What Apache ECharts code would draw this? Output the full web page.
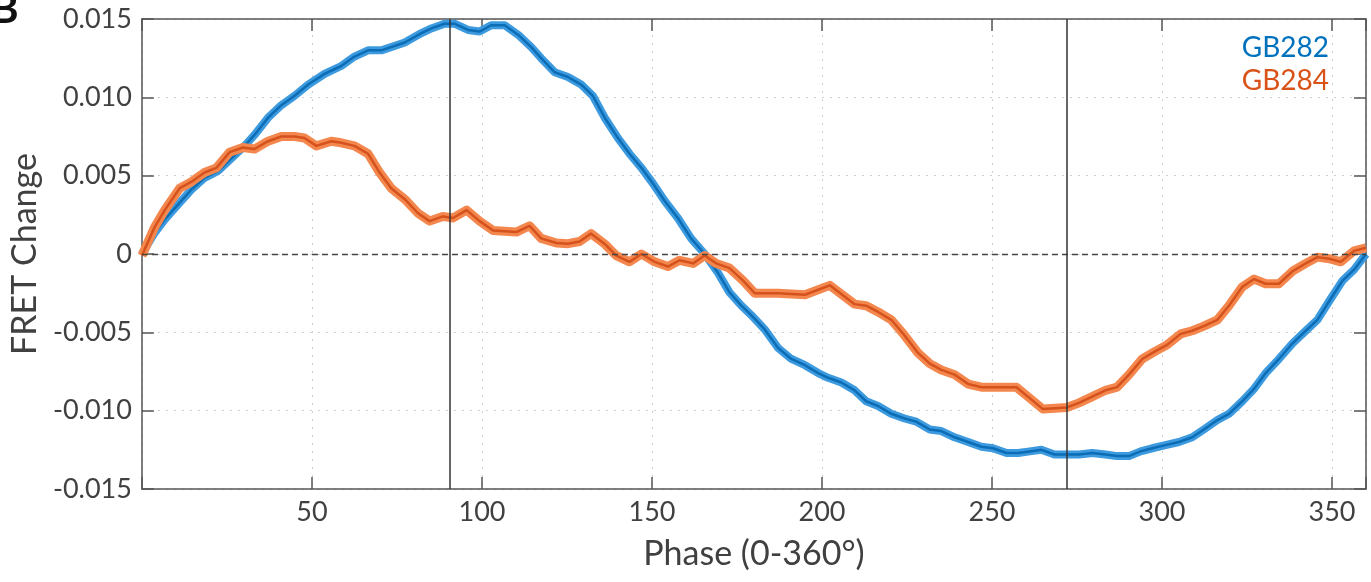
<!DOCTYPE html>
<html>
<head>
<meta charset="utf-8">
<title>FRET Change vs Phase</title>
<script src="https://cdn.jsdelivr.net/npm/echarts@6/dist/echarts.min.js"></script>
<style>
  html, body { margin: 0; padding: 0; background: #fff; }
  #chart { width: 1371px; height: 582px; }
</style>
</head>
<body>
<div id="chart"></div>
<script>
// GB282
const phase282 = [0, 3.7, 6.7, 10.6, 14.5, 18.4, 22.4, 26.3, 30.2, 33.1, 37.1, 41, 44.9, 48.8, 53.7, 58.6, 62.5, 66.5, 70.4, 77.3,
  82.2, 85.1, 89, 91.9, 95.9, 99.3, 102.7, 106.7, 110.6, 114.5, 117.4, 121.4, 125.3, 129.3, 132.6, 136.1, 140, 143.4, 146.9, 150.3,
  153.7, 157.6, 161.5, 165.5, 169.4, 172.8, 176.3, 179.2, 183.1, 187.1, 191, 195, 198.9, 201.8, 205.7, 209.6, 213, 216.5, 220.4, 224.3,
  227.7, 231.7, 235.1, 239, 243, 246.9, 250.3, 254.3, 257.7, 261.1, 264.5, 268.4, 272.8, 275.6, 279.5, 283.4, 286.8, 290.3, 293.7, 297.1,
  301, 305, 308.9, 312.3, 316.3, 319.7, 323.6, 327.1, 330.5, 334.4, 338.4, 342.3, 345.7, 349.2, 353.1, 356.5, 360];
const fret282 = [0, 0.00134, 0.0022, 0.00315, 0.0041, 0.00486, 0.0053, 0.0061, 0.0069, 0.0076, 0.0087, 0.0095, 0.0101, 0.0108, 0.0115, 0.012, 0.0126, 0.013, 0.013, 0.0135,
  0.0141, 0.0144, 0.0147, 0.0147, 0.0143, 0.0142, 0.0146, 0.0146, 0.014, 0.0132, 0.0125, 0.0116, 0.0113, 0.0108, 0.0101, 0.0087, 0.0074, 0.0064, 0.0055, 0.0045,
  0.0034, 0.0023, 0.001, 0, -0.0012, -0.00245, -0.0033, -0.0039, -0.0048, -0.006, -0.0067, -0.0071, -0.0076, -0.0079, -0.0082, -0.0087, -0.0094, -0.0097, -0.0102, -0.0105,
  -0.0107, -0.0112, -0.0113, -0.0117, -0.012, -0.0123, -0.0124, -0.0127, -0.0127, -0.0126, -0.0125, -0.0128, -0.0128, -0.0128, -0.0127, -0.0128, -0.0129, -0.0129, -0.0126, -0.0124,
  -0.0122, -0.012, -0.0117, -0.0112, -0.0106, -0.0102, -0.0094, -0.0086, -0.0076, -0.0067, -0.0057, -0.0049, -0.0042, -0.003, -0.0017, -0.001, 0];

// GB284
const phase284 = [0, 3.7, 6.7, 11.1, 14.5, 18.4, 21.9, 25.8, 29.7, 33.1, 37.1, 41, 44.9, 47.8, 51.3, 55.7, 58.6, 62.5, 66.5, 69.9,
  73.3, 77.3, 81.2, 84.6, 88.5, 91.5, 95.5, 99.3, 103.3, 110.1, 114, 117.4, 121.9, 125.3, 128.7, 132.1, 136.1, 139.5, 143.4, 146.9,
  150.8, 154.7, 158.1, 162.1, 165.5, 168.9, 172.8, 176.8, 180.2, 187.1, 195, 202.3, 209.6, 213, 216.5, 220.4, 224.3, 228.2, 231.7, 235.1,
  239, 243, 246.9, 252.7, 257.2, 261.1, 265, 272, 275.6, 279.5, 283.4, 286.8, 290.3, 294.2, 298.1, 301.5, 305.5, 308.9, 312.3, 316.3,
  319.7, 323.6, 327.1, 330.5, 334.4, 338.4, 342.3, 345.7, 349.2, 352.6, 356.5, 360];
const fret284 = [-0.0001, 0.0017, 0.0028, 0.0042, 0.0046, 0.0052, 0.0055, 0.0065, 0.0068, 0.0067, 0.0072, 0.0075, 0.0075, 0.0074, 0.0069, 0.0072, 0.0071, 0.0069, 0.0064, 0.0052,
  0.0042, 0.0035, 0.0026, 0.0021, 0.0024, 0.0023, 0.0028, 0.0021, 0.0015, 0.0014, 0.0018, 0.001, 0.0007, 0.00066, 0.0008, 0.0013, 0.00064, -0.0001, -0.0005, 0,
  -0.0005, -0.0008, -0.0004, -0.0006, -0.0001, -0.0006, -0.0009, -0.0017, -0.0025, -0.0025, -0.0026, -0.002, -0.0032, -0.0033, -0.0037, -0.0042, -0.0052, -0.0063, -0.007, -0.0074,
  -0.0077, -0.0083, -0.0085, -0.0085, -0.0085, -0.0092, -0.0099, -0.0098, -0.0095, -0.0091, -0.0087, -0.0085, -0.0077, -0.0067, -0.0062, -0.0058, -0.0051, -0.0049, -0.0046, -0.0042,
  -0.0033, -0.0021, -0.0016, -0.0019, -0.0019, -0.0011, -0.0006, -0.0002, -0.0003, -0.0005, 0.0002, 0.0004];

// reference lines
const refPhases = [90.4, 272];
const zeroLevel = 0;

const font = 'Lato, "Open Sans", sans-serif';
const textColor = '#404040';
const axisColor = '#555';

const pairs = (xs, ys) => xs.map((x, i) => [x, ys[i]]);

const chart = echarts.init(document.getElementById('chart'));

const baseAxisLine = { show: true, onZero: false, lineStyle: { color: axisColor, width: 1.5 } };
const tick = { show: true, inside: true, length: 12, lineStyle: { color: axisColor, width: 1.5 } };
const dotted = { show: true, lineStyle: { color: '#cfcfcf', type: [2, 6], width: 1 } };

chart.setOption({
  animation: false,
  grid: { left: 141, right: 5, top: 19, bottom: 93, containLabel: false },
  graphic: [
    { type: 'text', left: -9, top: -12, style: { text: 'B', font: 'bold 42px ' + font, fill: '#111' } },
    { type: 'text', right: 42, top: 34, style: { text: 'GB282', font: '28px ' + font, fill: '#0072BD', textAlign: 'right' } },
    { type: 'text', right: 42, top: 67, style: { text: 'GB284', font: '28px ' + font, fill: '#D95319', textAlign: 'right' } }
  ],
  xAxis: [{
    type: 'value', min: 0, max: 360, interval: 50,
    name: 'Phase (0-360°)', nameLocation: 'middle', nameGap: 48,
    nameTextStyle: { fontFamily: font, fontSize: 34, color: textColor },
    axisLine: baseAxisLine, axisTick: tick, splitLine: dotted,
    axisLabel: { fontFamily: font, fontSize: 27, color: textColor, margin: 10,
      formatter: v => (v === 0 || v === 360) ? '' : String(v) }
  }, {
    type: 'value', position: 'top', min: 0, max: 360, interval: 50,
    axisLine: baseAxisLine, axisTick: tick, axisLabel: { show: false }, splitLine: { show: false }
  }],
  yAxis: [{
    type: 'value', min: -0.015, max: 0.015, interval: 0.005,
    name: 'FRET Change', nameLocation: 'middle', nameGap: 94,
    nameTextStyle: { fontFamily: font, fontSize: 34, color: textColor },
    axisLine: baseAxisLine, axisTick: tick, splitLine: dotted,
    axisLabel: { fontFamily: font, fontSize: 27, color: textColor, margin: 10,
      formatter: v => Math.abs(v) < 1e-9 ? '0' : v.toFixed(3) }
  }, {
    type: 'value', position: 'right', min: -0.015, max: 0.015, interval: 0.005,
    axisLine: baseAxisLine, axisTick: tick, axisLabel: { show: false }, splitLine: { show: false }
  }],
  series: [
    {
      name: 'refs', type: 'line', data: [], silent: true,
      markLine: {
        symbol: 'none', silent: true, label: { show: false },
        data: [
          { yAxis: zeroLevel, lineStyle: { color: '#444', type: [6, 4], width: 1.3 } },
          ...refPhases.map(p => ({ xAxis: p, lineStyle: { color: '#333', type: 'solid', width: 1.5 } }))
        ]
      }
    },
    {
      name: 'GB282 band', type: 'line', data: pairs(phase282, fret282), showSymbol: false, silent: true,
      lineStyle: { color: '#3d9ade', width: 8, join: 'round', cap: 'butt' }
    },
    {
      name: 'GB282', type: 'line', data: pairs(phase282, fret282), showSymbol: false,
      lineStyle: { color: '#0b6db6', width: 2.5, join: 'round' }
    },
    {
      name: 'GB284 band', type: 'line', data: pairs(phase284, fret284), showSymbol: false, silent: true,
      lineStyle: { color: '#f3874d', width: 9, join: 'round', cap: 'butt' }
    },
    {
      name: 'GB284', type: 'line', data: pairs(phase284, fret284), showSymbol: false,
      lineStyle: { color: '#d6521d', width: 2.5, join: 'round' }
    }
  ]
});
</script>
</body>
</html>
